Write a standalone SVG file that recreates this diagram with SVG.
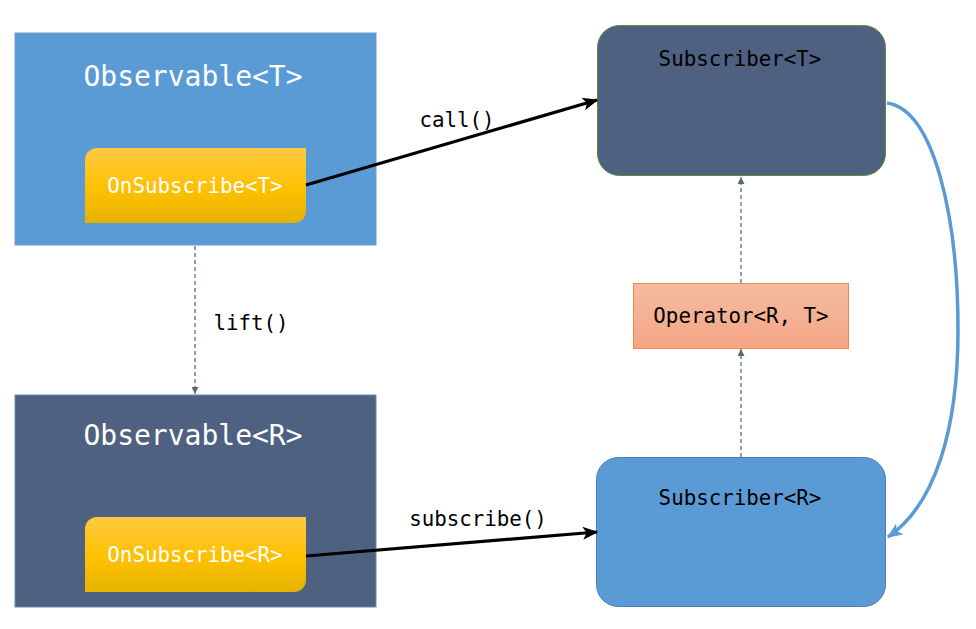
<svg xmlns="http://www.w3.org/2000/svg" width="976" height="629" viewBox="0 0 976 629">
<style>
text{font-family:"DejaVu Sans Mono","Liberation Mono",monospace;text-anchor:middle}
.big{font-size:28px;fill:#ffffff}
.os{font-size:20.8px;fill:#ffffff}
.lbl{font-size:20.8px;fill:#000000}
.dash{stroke:#5a6a80;stroke-width:1.3;stroke-dasharray:4 3;fill:none}
.solid{stroke:#000;stroke-width:3.2;fill:none}
</style>
<defs>
<linearGradient id="gold" x1="0" y1="0" x2="0" y2="1">
<stop offset="0" stop-color="#FFC940"/>
<stop offset="0.55" stop-color="#FFC000"/>
<stop offset="1" stop-color="#E5B300"/>
</linearGradient>
<linearGradient id="peach" x1="0" y1="0" x2="0" y2="1">
<stop offset="0" stop-color="#F5BCA3"/>
<stop offset="1" stop-color="#F4A583"/>
</linearGradient>
<marker id="ah" viewBox="0 0 10 10" refX="10" refY="5" markerWidth="7" markerHeight="7" markerUnits="userSpaceOnUse" orient="auto">
<path d="M0,0 L10,5 L0,10 Z" fill="#5a6a80"/>
</marker>
<marker id="bk" viewBox="0 0 12 10" refX="11" refY="5" markerWidth="16" markerHeight="13" markerUnits="userSpaceOnUse" orient="auto">
<path d="M0,0 L12,5 L0,10 L3,5 Z" fill="#000"/>
</marker>
<marker id="bl" viewBox="0 0 12 10" refX="11" refY="5" markerWidth="16" markerHeight="13" markerUnits="userSpaceOnUse" orient="auto">
<path d="M0,0 L12,5 L0,10 L3,5 Z" fill="#5B9BD5"/>
</marker>
</defs>

<g id="observable-t">
<rect x="15" y="33" width="361" height="212" fill="#5B9BD5" stroke="#6A9FD0" stroke-width="1"/>
<text class="big" x="193" y="86">Observable&lt;T&gt;</text>
</g>
<g id="onsubscribe-t">
<path d="M97,148 H306 V211 A12,12 0 0 1 294,223 H85 V160 A12,12 0 0 1 97,148 Z" fill="url(#gold)"/>
<text class="os" x="195" y="193">OnSubscribe&lt;T&gt;</text>
</g>

<g id="observable-r">
<rect x="15" y="395" width="361" height="212" fill="#4F6180" stroke="#6A8DB5" stroke-width="1"/>
<text class="big" x="193" y="445">Observable&lt;R&gt;</text>
</g>
<g id="onsubscribe-r">
<path d="M97,517 H306 V580 A12,12 0 0 1 294,592 H85 V529 A12,12 0 0 1 97,517 Z" fill="url(#gold)"/>
<text class="os" x="195" y="562">OnSubscribe&lt;R&gt;</text>
</g>

<g id="subscriber-t">
<rect x="597.5" y="25.5" width="288" height="150" rx="22" fill="#4F6180" stroke="#5E8C3C" stroke-width="1"/>
<text class="lbl" x="740" y="66">Subscriber&lt;T&gt;</text>
</g>

<g id="operator">
<rect x="633.5" y="283.5" width="215" height="65" fill="url(#peach)" stroke="#F08A4B" stroke-width="1"/>
<text class="lbl" x="741" y="323">Operator&lt;R, T&gt;</text>
</g>

<g id="subscriber-r">
<rect x="596.5" y="457.5" width="289" height="149" rx="22" fill="#5B9BD5" stroke="#4A7EB0" stroke-width="1"/>
<text class="lbl" x="740" y="505">Subscriber&lt;R&gt;</text>
</g>

<g id="connectors">
<line class="dash" x1="195" y1="246" x2="195" y2="394" marker-end="url(#ah)"/>
<line class="dash" x1="741" y1="283" x2="741" y2="177" marker-end="url(#ah)"/>
<line class="dash" x1="741" y1="457" x2="741" y2="349" marker-end="url(#ah)"/>
<line class="solid" x1="306" y1="185" x2="597" y2="100" marker-end="url(#bk)"/>
<line class="solid" x1="306" y1="556" x2="597" y2="532" marker-end="url(#bk)"/>
<path d="M887,103 C935,110 958,220 958,330 C958,430 935,505 888,537" fill="none" stroke="#5B9BD5" stroke-width="3.5" marker-end="url(#bl)"/>
<text class="lbl" x="457" y="127">call()</text>
<text class="lbl" x="251" y="330">lift()</text>
<text class="lbl" x="478" y="526">subscribe()</text>
</g>
</svg>
